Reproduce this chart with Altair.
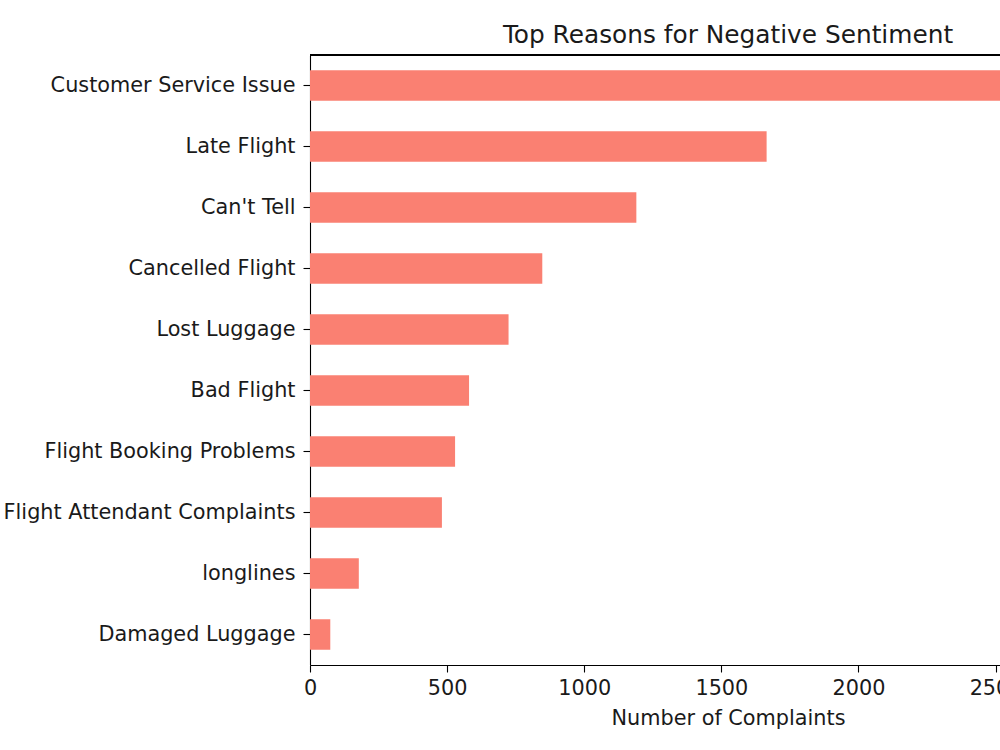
import altair as alt
import pandas as pd

# Complaint counts per negative-sentiment reason
reasons = [
    "Customer Service Issue",
    "Late Flight",
    "Can't Tell",
    "Cancelled Flight",
    "Lost Luggage",
    "Bad Flight",
    "Flight Booking Problems",
    "Flight Attendant Complaints",
    "longlines",
    "Damaged Luggage",
]
counts = [2910, 1665, 1190, 847, 724, 580, 529, 481, 178, 74]
x_ticks = [0, 500, 1000, 1500, 2000, 2500]

df = pd.DataFrame({"reason": reasons, "count": counts})

FONT = "DejaVu Sans"
TEXT_COLOR = "#1a1a1a"
LABEL_SIZE = 20.8
PLOT_W, PLOT_H = 690, 610

bars = alt.Chart(df).mark_bar(color="#FA8072", clip=True).encode(
    x=alt.X(
        "count:Q",
        scale=alt.Scale(domain=[0, 2516], nice=False, zero=True),
        axis=alt.Axis(
            values=x_ticks,
            format="d",
            title="Number of Complaints",
            titleX=418,
            titleY=59,
            titleBaseline="alphabetic",
            titleFontSize=LABEL_SIZE,
            titleFontWeight="normal",
            titleFont=FONT,
            titleColor=TEXT_COLOR,
            labelFontSize=LABEL_SIZE,
            labelFont=FONT,
            labelColor=TEXT_COLOR,
            labelPadding=6,
            tickSize=7,
            tickWidth=1.1,
            tickColor="#000000",
            domainColor="#000000",
            domainWidth=1.1,
            grid=False,
            labelFlush=False,
            labelOverlap=False,
        ),
    ),
    y=alt.Y(
        "reason:N",
        sort=reasons,
        scale=alt.Scale(paddingInner=0.5, paddingOuter=0.25),
        axis=alt.Axis(
            title=None,
            labelFontSize=LABEL_SIZE,
            labelFont=FONT,
            labelColor=TEXT_COLOR,
            labelPadding=8,
            tickSize=7,
            tickWidth=1.1,
            tickColor="#000000",
            domainColor="#000000",
            domainWidth=1.1,
            labelLimit=500,
        ),
    ),
)

# Top frame line of the axes box
top_line = alt.Chart(df).mark_rule(color="#000000", strokeWidth=1.1).encode(
    x=alt.value(0), x2=alt.value(PLOT_W), y=alt.value(0)
)

chart = (
    alt.layer(bars, top_line)
    .properties(
        width=PLOT_W,
        height=PLOT_H,
        title=alt.TitleParams(
            "Top Reasons for Negative Sentiment",
            anchor="middle",
            dx=73,
            offset=7,
            font=FONT,
            fontSize=24.8,
            fontWeight="normal",
            color=TEXT_COLOR,
        ),
        autosize=alt.AutoSizeParams(type="none"),
        padding={"left": 310, "top": 55, "right": 0, "bottom": 85},
    )
    .configure_view(stroke=None)
    .configure(background="white")
)

chart.save("out.html", embed_options={"renderer": "svg", "actions": False})
